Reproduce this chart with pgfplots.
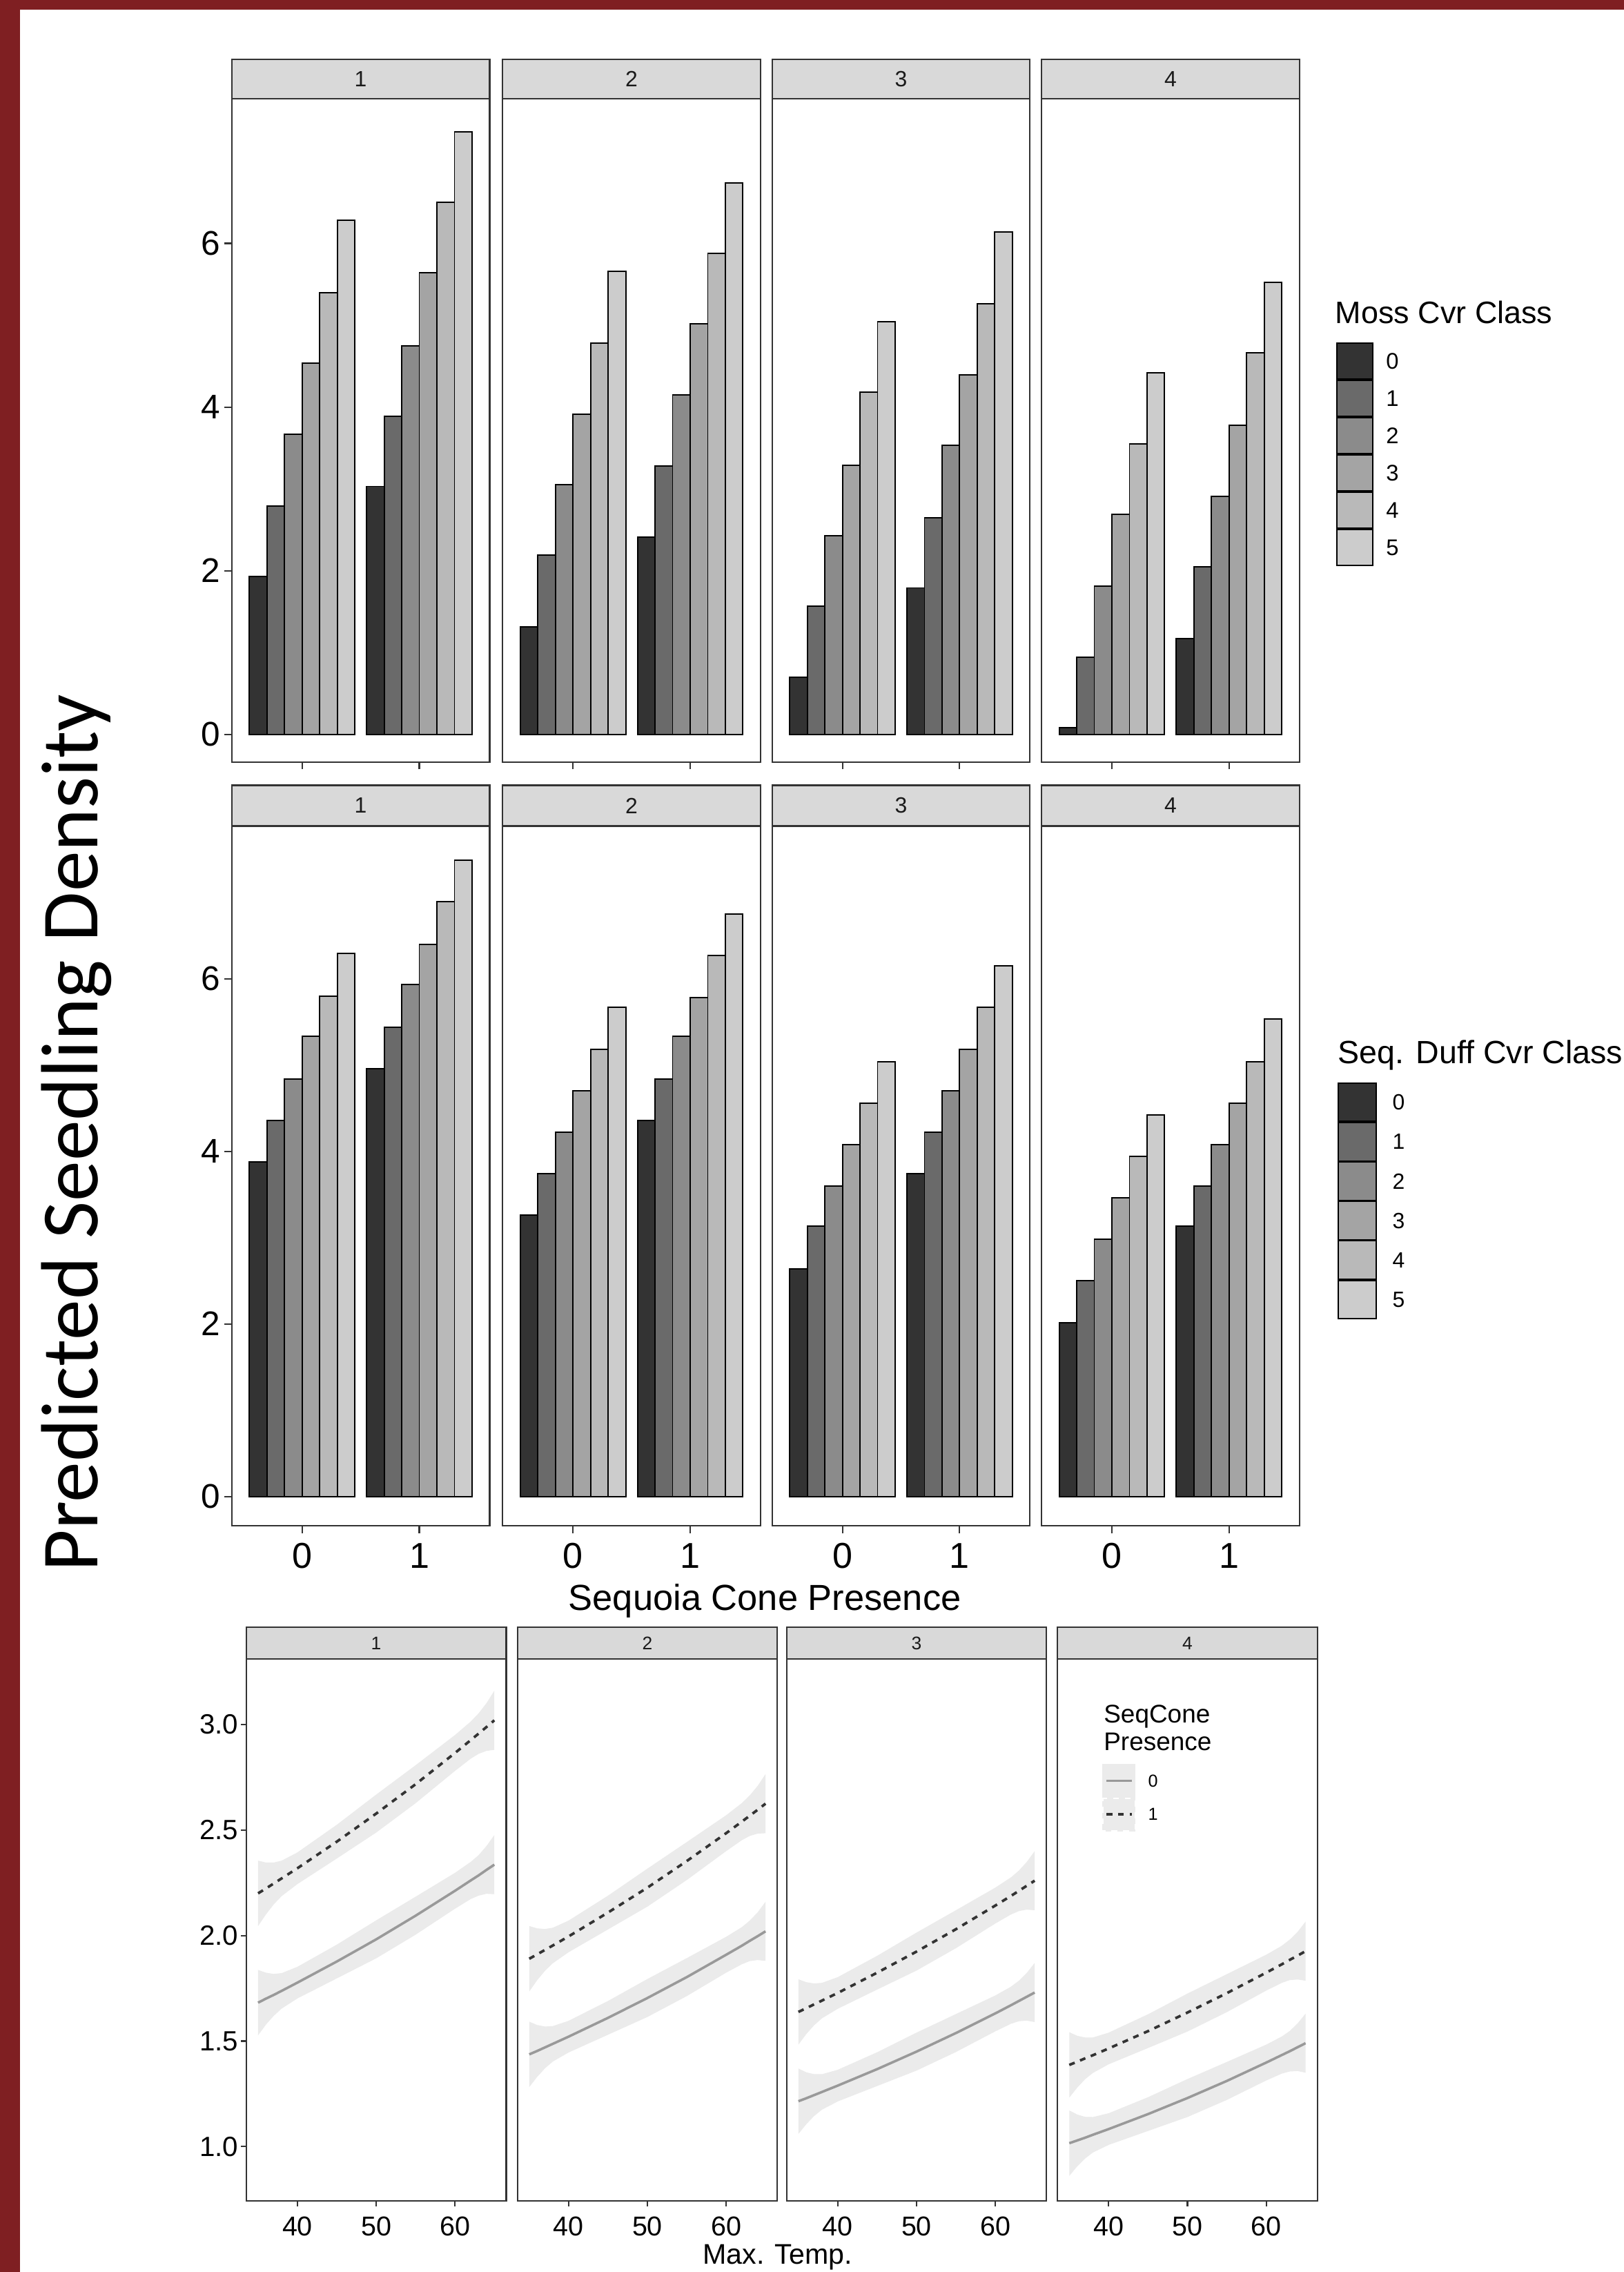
\documentclass[border=0pt]{standalone}
\usepackage{fontspec}
\setmainfont{Liberation Sans}
\newfontfamily\calibri{Carlito}
\usepackage{pgfplots}
\usepackage{pgfplotstable}
\pgfplotsset{compat=1.18}

\definecolor{gA}{HTML}{333333}
\definecolor{gB}{HTML}{6A6A6A}
\definecolor{gC}{HTML}{8B8B8B}
\definecolor{gD}{HTML}{A4A4A4}
\definecolor{gE}{HTML}{B9B9B9}
\definecolor{gF}{HTML}{CCCCCC}
\definecolor{stripc}{HTML}{D9D9D9}
\definecolor{ribc}{HTML}{EBEBEB}
\definecolor{solidc}{HTML}{999999}
\definecolor{frame}{RGB}{127,31,34}
\definecolor{txt}{HTML}{1A1A1A}

% ---------- Moss cover class (row 1) ----------
\pgfplotstableread{
x c0 c1 c2 c3 c4 c5
0 1.93 2.79 3.67 4.54 5.40 6.28
1 3.03 3.89 4.75 5.64 6.50 7.36
}\mA
\pgfplotstableread{
x c0 c1 c2 c3 c4 c5
0 1.31 2.19 3.05 3.91 4.78 5.66
1 2.41 3.28 4.15 5.02 5.88 6.74
}\mB
\pgfplotstableread{
x c0 c1 c2 c3 c4 c5
0 0.70 1.57 2.43 3.29 4.18 5.04
1 1.79 2.65 3.53 4.39 5.26 6.14
}\mC
\pgfplotstableread{
x c0 c1 c2 c3 c4 c5
0 0.08 0.94 1.81 2.69 3.55 4.42
1 1.17 2.05 2.91 3.78 4.66 5.52
}\mD
% ---------- Seq. duff cover class (row 2) ----------
\pgfplotstableread{
x c0 c1 c2 c3 c4 c5
0 3.88 4.36 4.84 5.33 5.80 6.29
1 4.96 5.44 5.93 6.40 6.89 7.37
}\dA
\pgfplotstableread{
x c0 c1 c2 c3 c4 c5
0 3.26 3.74 4.22 4.70 5.18 5.67
1 4.36 4.84 5.33 5.78 6.27 6.75
}\dB
\pgfplotstableread{
x c0 c1 c2 c3 c4 c5
0 2.64 3.13 3.60 4.08 4.56 5.04
1 3.74 4.22 4.70 5.18 5.67 6.15
}\dC
\pgfplotstableread{
x c0 c1 c2 c3 c4 c5
0 2.01 2.50 2.98 3.46 3.94 4.42
1 3.13 3.60 4.08 4.56 5.04 5.53
}\dD
% ---------- Max temp fits (row 3): f0 = cone 0, f1 = cone 1 ----------
\pgfplotstableread{
x f0 f1
35 1.682 2.200
36 1.701 2.223
37 1.719 2.247
38 1.738 2.271
40 1.777 2.319
45 1.877 2.445
50 1.982 2.578
55 2.094 2.717
60 2.212 2.865
62 2.261 2.926
63 2.285 2.957
64 2.311 2.988
65 2.336 3.020
}\tA
\pgfplotstableread{
x f0 f1
35 1.437 1.890
36 1.453 1.911
37 1.470 1.932
38 1.487 1.953
40 1.521 1.996
45 1.610 2.109
50 1.704 2.227
55 1.803 2.353
60 1.909 2.485
62 1.952 2.540
63 1.975 2.568
64 1.997 2.596
65 2.020 2.625
}\tB
\pgfplotstableread{
x f0 f1
35 1.215 1.638
36 1.229 1.656
37 1.244 1.674
38 1.259 1.692
40 1.289 1.728
45 1.367 1.824
50 1.450 1.924
55 1.538 2.030
60 1.631 2.142
62 1.670 2.188
63 1.690 2.212
64 1.710 2.236
65 1.730 2.260
}\tC
\pgfplotstableread{
x f0 f1
35 1.016 1.387
36 1.029 1.402
37 1.042 1.418
38 1.056 1.433
40 1.083 1.465
45 1.154 1.547
50 1.230 1.635
55 1.311 1.727
60 1.398 1.824
62 1.434 1.864
63 1.452 1.885
64 1.471 1.905
65 1.490 1.926
}\tD

\pgfplotsset{
  base/.style={scale only axis, clip=false, anchor=north west,
    axis line style={draw=gA, line width=0.55pt},
    tick style={draw=gA, line width=0.5pt},
    tick align=outside, tick pos=left,
    ticklabel style={text=black},
    /pgf/number format/assume math mode=true},
  barpanel/.style={base, width=89pt, ybar=0pt, bar width=0.15,
    xmin=-0.6, xmax=1.6, ymin=-0.34, ymax=7.77,
    xtick={0,1}, major tick length=2.5pt,
    every axis plot/.append style={draw=black, line width=0.45pt}},
  linepanel/.style={base, width=89.7pt, height=187pt,
    xmin=33.5, xmax=66.5, ymin=0.742, ymax=3.31,
    xtick={40,50,60}, xticklabels={40,50,60}, major tick length=1.8pt,
    xticklabel style={font=\fontsize{9.4}{10}\selectfont}},
  yleft/.style={ytick={0,2,4,6}, yticklabels={0,2,4,6},
    yticklabel style={font=\fontsize{11.8}{13}\selectfont, inner xsep=1.2pt}},
  ynone/.style={ytick=\empty},
  ribbon/.style={fill=ribc, draw=none, forget plot},
  fitA/.style={solidc, line width=0.85pt},
  fitB/.style={gA, line width=0.9pt, dash pattern=on 2pt off 2pt},
}

\newcommand{\barplots}[1]{%
  \addplot[fill=gA] table[x=x,y=c0]{#1};
  \addplot[fill=gB] table[x=x,y=c1]{#1};
  \addplot[fill=gC] table[x=x,y=c2]{#1};
  \addplot[fill=gD] table[x=x,y=c3]{#1};
  \addplot[fill=gE] table[x=x,y=c4]{#1};
  \addplot[fill=gF] table[x=x,y=c5]{#1};
}
\newcommand{\strip}[4]{% height, half height, font size, label
  \draw[draw=gA, fill=stripc, line width=0.55pt] (rel axis cs:0,1) rectangle ([yshift=#1]rel axis cs:1,1);
  \node[inner sep=0pt, text=txt, font=\fontsize{#3}{#3}\selectfont] at ([yshift=#2]rel axis cs:0.5,1) {#4};
}

\begin{document}
\begin{tikzpicture}[x=1pt,y=1pt]
\clip (0,0) rectangle (560.5,-784);
\fill[frame] (0,0) rectangle (560.5,-784);
\fill[white] (7,-3.4) rectangle (560.5,-784);

% ================= Row 1 : Moss =================
\begin{axis}[barpanel, yleft, at={(80pt,-34pt)}, height=229pt, xticklabels={,}]
  \barplots{\mA}
  \strip{13.5pt}{6.75pt}{7.6}{1}
\end{axis}
\begin{axis}[barpanel, ynone, at={(173.5pt,-34pt)}, height=229pt, xticklabels={,}]
  \barplots{\mB}
  \strip{13.5pt}{6.75pt}{7.6}{2}
\end{axis}
\begin{axis}[barpanel, ynone, at={(266.5pt,-34pt)}, height=229pt, xticklabels={,}]
  \barplots{\mC}
  \strip{13.5pt}{6.75pt}{7.6}{3}
\end{axis}
\begin{axis}[barpanel, ynone, at={(359.5pt,-34pt)}, height=229pt, xticklabels={,},
  every axis plot post/.append style={legend image code/.code={\draw[##1, draw=black, line width=0.45pt] (0pt,-6.2pt) rectangle (12.3pt,6.2pt);}},
  legend entries={0,1,2,3,4,5},
  legend style={draw=none, fill=none, at={(1.1404,0.6332)}, anchor=north west,
    inner xsep=0pt, inner ysep=0pt, row sep=0pt, column sep=0pt,
    font=\fontsize{7.8}{8}\selectfont,
    nodes={inner xsep=4.5pt, inner ysep=0pt, text depth=0pt}, cells={anchor=west}}]
  \barplots{\mD}
  \strip{13.5pt}{6.75pt}{7.6}{4}
\end{axis}

% ================= Row 2 : Duff =================
\begin{axis}[barpanel, yleft, at={(80pt,-285pt)}, height=241.5pt, xticklabels={0,1},
  xticklabel style={font=\fontsize{12.4}{14}\selectfont}]
  \barplots{\dA}
  \strip{14pt}{7pt}{7.6}{1}
\end{axis}
\begin{axis}[barpanel, ynone, at={(173.5pt,-285pt)}, height=241.5pt, xticklabels={0,1},
  xticklabel style={font=\fontsize{12.4}{14}\selectfont}]
  \barplots{\dB}
  \strip{14pt}{7pt}{7.6}{2}
\end{axis}
\begin{axis}[barpanel, ynone, at={(266.5pt,-285pt)}, height=241.5pt, xticklabels={0,1},
  xticklabel style={font=\fontsize{12.4}{14}\selectfont}]
  \barplots{\dC}
  \strip{14pt}{7pt}{7.6}{3}
\end{axis}
\begin{axis}[barpanel, ynone, at={(359.5pt,-285pt)}, height=241.5pt, xticklabels={0,1},
  xticklabel style={font=\fontsize{12.4}{14}\selectfont},
  every axis plot post/.append style={legend image code/.code={\draw[##1, draw=black, line width=0.45pt] (0pt,-6.575pt) rectangle (13pt,6.575pt);}},
  legend entries={0,1,2,3,4,5},
  legend style={draw=none, fill=none, at={(1.146,0.634)}, anchor=north west,
    inner xsep=0pt, inner ysep=0pt, row sep=0pt, column sep=0pt,
    font=\fontsize{7.6}{8}\selectfont,
    nodes={inner xsep=5.5pt, inner ysep=0pt, text depth=0pt}, cells={anchor=west}}]
  \barplots{\dD}
  \strip{14pt}{7pt}{7.6}{4}
\end{axis}

% ================= Row 3 : Max temp =================
\begin{axis}[linepanel, at={(85pt,-572.5pt)},
  ytick={1,1.5,2,2.5,3}, yticklabels={1.0,1.5,2.0,2.5,3.0},
  yticklabel style={font=\fontsize{9.6}{10}\selectfont, inner xsep=0.8pt}]
  \addplot[ribbon] coordinates {(35,1.837)(36,1.824)(37,1.818)(38,1.822)(40,1.852)(45,1.957)(50,2.072)(55,2.184)(60,2.297)(62,2.349)(63,2.381)(64,2.424)(65,2.476)
    (65,2.196)(64,2.198)(63,2.189)(62,2.173)(60,2.127)(55,2.004)(50,1.892)(45,1.797)(40,1.702)(38,1.654)(37,1.620)(36,1.578)(35,1.527)};
  \addplot[ribbon] coordinates {(35,2.355)(36,2.346)(37,2.346)(38,2.355)(40,2.394)(45,2.525)(50,2.668)(55,2.807)(60,2.950)(62,3.014)(63,3.053)(64,3.101)(65,3.160)
    (65,2.880)(64,2.875)(63,2.861)(62,2.838)(60,2.780)(55,2.627)(50,2.488)(45,2.365)(40,2.244)(38,2.187)(37,2.148)(36,2.100)(35,2.045)};
  \addplot[fitA] table[x=x,y=f0]{\tA};
  \addplot[fitB] table[x=x,y=f1]{\tA};
  \strip{11pt}{5.5pt}{6.3}{1}
\end{axis}
\begin{axis}[linepanel, ynone, at={(178.6pt,-572.5pt)}]
  \addplot[ribbon] coordinates {(35,1.592)(36,1.576)(37,1.569)(38,1.571)(40,1.596)(45,1.690)(50,1.794)(55,1.893)(60,1.994)(62,2.040)(63,2.071)(64,2.110)(65,2.160)
    (65,1.880)(64,1.884)(63,1.879)(62,1.864)(60,1.824)(55,1.713)(50,1.614)(45,1.530)(40,1.446)(38,1.403)(37,1.371)(36,1.330)(35,1.282)};
  \addplot[ribbon] coordinates {(35,2.045)(36,2.034)(37,2.031)(38,2.037)(40,2.071)(45,2.189)(50,2.317)(55,2.443)(60,2.570)(62,2.628)(63,2.664)(64,2.709)(65,2.765)
    (65,2.485)(64,2.483)(63,2.472)(62,2.452)(60,2.400)(55,2.263)(50,2.137)(45,2.029)(40,1.921)(38,1.869)(37,1.833)(36,1.788)(35,1.735)};
  \addplot[fitA] table[x=x,y=f0]{\tB};
  \addplot[fitB] table[x=x,y=f1]{\tB};
  \strip{11pt}{5.5pt}{6.3}{2}
\end{axis}
\begin{axis}[linepanel, ynone, at={(271.5pt,-572.5pt)}]
  \addplot[ribbon] coordinates {(35,1.370)(36,1.352)(37,1.343)(38,1.343)(40,1.364)(45,1.447)(50,1.540)(55,1.628)(60,1.716)(62,1.758)(63,1.786)(64,1.823)(65,1.870)
    (65,1.590)(64,1.597)(63,1.594)(62,1.582)(60,1.546)(55,1.448)(50,1.360)(45,1.287)(40,1.214)(38,1.175)(37,1.145)(36,1.106)(35,1.060)};
  \addplot[ribbon] coordinates {(35,1.793)(36,1.779)(37,1.773)(38,1.776)(40,1.803)(45,1.904)(50,2.014)(55,2.120)(60,2.227)(62,2.276)(63,2.308)(64,2.349)(65,2.400)
    (65,2.120)(64,2.123)(63,2.116)(62,2.100)(60,2.057)(55,1.940)(50,1.834)(45,1.744)(40,1.653)(38,1.608)(37,1.575)(36,1.533)(35,1.483)};
  \addplot[fitA] table[x=x,y=f0]{\tC};
  \addplot[fitB] table[x=x,y=f1]{\tC};
  \strip{11pt}{5.5pt}{6.3}{3}
\end{axis}
\begin{axis}[linepanel, ynone, at={(365pt,-572.5pt)},
  legend image code/.code={\fill[ribc] (0pt,-5.375pt) rectangle (10.6pt,5.375pt); \draw[#1] (1pt,0pt) -- (9.8pt,0pt);},
  legend entries={0,1},
  legend style={draw=none, fill=none, at={(0.1704,0.8075)}, anchor=north west,
    inner xsep=0pt, inner ysep=0pt, row sep=0pt, column sep=0pt,
    font=\fontsize{6}{7}\selectfont,
    nodes={inner xsep=4.3pt, inner ysep=0pt, text depth=0pt}, cells={anchor=west}}]
  \addplot[ribbon] coordinates {(35,1.171)(36,1.152)(37,1.141)(38,1.140)(40,1.158)(45,1.234)(50,1.320)(55,1.401)(60,1.483)(62,1.522)(63,1.548)(64,1.584)(65,1.630)
    (65,1.350)(64,1.358)(63,1.356)(62,1.346)(60,1.313)(55,1.221)(50,1.140)(45,1.074)(40,1.008)(38,0.972)(37,0.943)(36,0.906)(35,0.861)};
  \addplot[ribbon] coordinates {(35,1.542)(36,1.525)(37,1.517)(38,1.517)(40,1.540)(45,1.627)(50,1.725)(55,1.817)(60,1.909)(62,1.952)(63,1.981)(64,2.018)(65,2.066)
    (65,1.786)(64,1.792)(63,1.789)(62,1.776)(60,1.739)(55,1.637)(50,1.545)(45,1.467)(40,1.390)(38,1.349)(37,1.319)(36,1.279)(35,1.232)};
  \addplot[fitA] table[x=x,y=f0]{\tD};
  \addplot[fitB] table[x=x,y=f1]{\tD};
  \strip{11pt}{5.5pt}{6.3}{4}
\end{axis}

% ================= Titles =================
\node[rotate=90, anchor=base west, inner sep=0pt, font=\calibri\fontsize{28}{30}\selectfont] at (33.7,-542.5) {Predicted Seedling Density};
\node[anchor=base, inner sep=0pt, font=\fontsize{12.5}{14}\selectfont] at (264,-555.6) {Sequoia Cone Presence};
\node[anchor=base, inner sep=0pt, font=\fontsize{9.8}{11}\selectfont] at (268.4,-781.3) {Max. Temp.};
\node[anchor=base west, inner sep=0pt, font=\fontsize{10.7}{12}\selectfont] at (460.75,-111.5) {Moss Cvr Class};
\node[anchor=base west, inner sep=0pt, font=\fontsize{11.1}{13}\selectfont] at (461.6,-367) {Seq. Duff Cvr Class};
\node[anchor=base west, inner sep=0pt, font=\fontsize{8.8}{10}\selectfont] at (380.8,-594.4) {SeqCone};
\node[anchor=base west, inner sep=0pt, font=\fontsize{8.8}{10}\selectfont] at (380.8,-603.9) {Presence};
\end{tikzpicture}
\end{document}
